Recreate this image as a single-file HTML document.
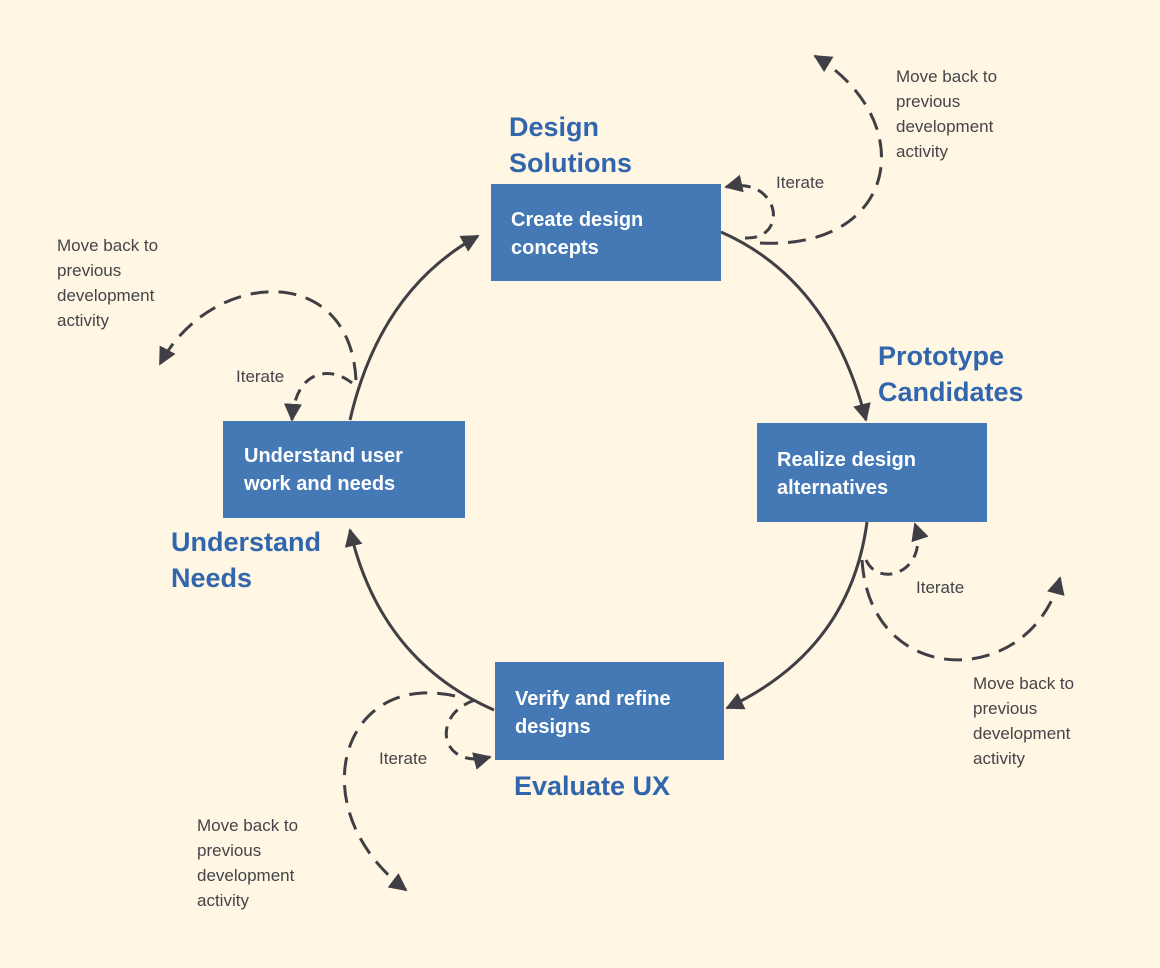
<!DOCTYPE html>
<html><head><meta charset="utf-8"><style>
html,body{margin:0;padding:0;background:#fff7e4;}
svg{display:block;}
.t{font-family:"Liberation Sans",sans-serif;font-weight:bold;font-size:27px;fill:#3166ad;}
.b{font-family:"Liberation Sans",sans-serif;font-weight:bold;font-size:20px;fill:#fff;}
.s{font-family:"Liberation Sans",sans-serif;font-size:17px;fill:#444449;}
.m{fill:none;stroke:#3f3f45;stroke-width:3;}
.d{fill:none;stroke:#3f3f45;stroke-width:3;stroke-dasharray:18 10;}
.dd{fill:none;stroke:#3f3f45;stroke-width:3;stroke-dasharray:12 8;}
</style></head><body>
<svg width="1160" height="968" viewBox="0 0 1160 968" xmlns="http://www.w3.org/2000/svg">
<defs>
<marker id="a" viewBox="0 0 10 10" refX="9" refY="5" markerWidth="6" markerHeight="6" markerUnits="strokeWidth" orient="auto"><path d="M0,0 L10,5 L0,10 z" fill="#3f3f45"/></marker>
</defs>
<rect x="0" y="0" width="1160" height="968" fill="#fff7e4"/>

<!-- main connectors -->
<path class="m" d="M721,232 Q830,280 866,420" marker-end="url(#a)"/>
<path class="m" d="M867,522 Q850,650 727,708" marker-end="url(#a)"/>
<path class="m" d="M494,710 Q380,660 350,530" marker-end="url(#a)"/>
<path class="m" d="M350,420 Q380,290 478,236" marker-end="url(#a)"/>

<!-- top-right dashed -->
<path class="dd" d="M745,238 C790,240 780,175 726,187" marker-end="url(#a)"/>
<path class="d" d="M760,243 C900,250 920,120 815,56" marker-end="url(#a)"/>
<!-- left dashed -->
<path class="dd" d="M352,383 C330,365 295,370 292,420" marker-end="url(#a)"/>
<path class="d" d="M356,380 C350,260 210,270 160,364" marker-end="url(#a)"/>
<!-- right dashed -->
<path class="dd" d="M866,560 C880,590 930,570 915,524" marker-end="url(#a)"/>
<path class="d" d="M862,560 C870,690 1030,690 1060,578" marker-end="url(#a)"/>
<!-- bottom-left dashed -->
<path class="dd" d="M475,700 C430,715 440,770 490,757" marker-end="url(#a)"/>
<path class="d" d="M455,696 C340,670 300,810 406,890" marker-end="url(#a)"/>

<!-- boxes -->
<rect x="491" y="184" width="230" height="97" fill="#4479b5"/>
<rect x="757" y="423" width="230" height="99" fill="#4479b5"/>
<rect x="495" y="662" width="229" height="98" fill="#4479b5"/>
<rect x="223" y="421" width="242" height="97" fill="#4479b5"/>

<text class="b" x="511" y="226">Create design</text>
<text class="b" x="511" y="254">concepts</text>
<text class="b" x="777" y="466">Realize design</text>
<text class="b" x="777" y="494">alternatives</text>
<text class="b" x="515" y="705">Verify and refine</text>
<text class="b" x="515" y="733">designs</text>
<text class="b" x="244" y="462">Understand user</text>
<text class="b" x="244" y="490">work and needs</text>

<!-- titles -->
<text class="t" x="509" y="136">Design</text>
<text class="t" x="509" y="172">Solutions</text>
<text class="t" x="878" y="365">Prototype</text>
<text class="t" x="878" y="401">Candidates</text>
<text class="t" x="171" y="551">Understand</text>
<text class="t" x="171" y="587">Needs</text>
<text class="t" x="514" y="795">Evaluate UX</text>

<!-- small labels -->
<text class="s" x="776" y="188">Iterate</text>
<text class="s" x="236" y="382">Iterate</text>
<text class="s" x="916" y="593">Iterate</text>
<text class="s" x="379" y="764">Iterate</text>

<text class="s" x="896" y="82">Move back to</text>
<text class="s" x="896" y="107">previous</text>
<text class="s" x="896" y="132">development</text>
<text class="s" x="896" y="157">activity</text>

<text class="s" x="57" y="251">Move back to</text>
<text class="s" x="57" y="276">previous</text>
<text class="s" x="57" y="301">development</text>
<text class="s" x="57" y="326">activity</text>

<text class="s" x="973" y="689">Move back to</text>
<text class="s" x="973" y="714">previous</text>
<text class="s" x="973" y="739">development</text>
<text class="s" x="973" y="764">activity</text>

<text class="s" x="197" y="831">Move back to</text>
<text class="s" x="197" y="856">previous</text>
<text class="s" x="197" y="881">development</text>
<text class="s" x="197" y="906">activity</text>
</svg>
</body></html>
